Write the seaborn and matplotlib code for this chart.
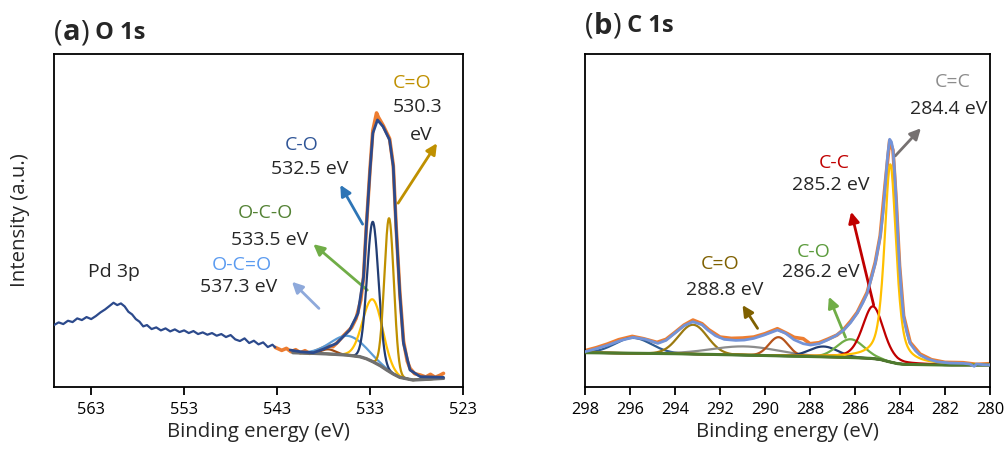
import numpy as np
import matplotlib
matplotlib.use("Agg")
import matplotlib.pyplot as plt
import seaborn as sns

# ---------------- (a) O 1s ----------------
# wide scan part on the left (Pd 3p region)
survey_ev = [567.0, 566.5, 566.0, 565.5, 565.0, 564.5, 564.0, 563.5, 563.0, 562.5,
             562.0, 561.5, 561.0, 560.6, 560.2, 559.8, 559.4, 559.0, 558.6, 558.2,
             557.8, 557.4, 557.0, 556.5, 556.0, 555.5, 555.0, 554.5, 554.0, 553.5,
             553.0, 552.5, 552.0, 551.5, 551.0, 550.5, 550.0, 549.5, 549.0, 548.5,
             548.0, 547.5, 547.0, 546.5, 546.0, 545.5, 545.0, 544.5, 544.0, 543.5, 543.2]
survey_int = [18.6, 19.4, 18.9, 19.9, 19.5, 20.6, 20.1, 21.0, 20.4, 21.3,
              22.4, 23.3, 24.4, 25.3, 24.6, 25.1, 24.2, 22.6, 21.8, 20.4,
              19.6, 18.2, 18.6, 17.4, 17.9, 17.0, 17.6, 16.7, 17.3, 16.5,
              17.0, 16.2, 16.8, 15.9, 16.4, 15.7, 16.2, 15.4, 15.9, 15.0,
              15.6, 14.3, 13.8, 14.6, 13.2, 13.9, 12.8, 13.4, 12.0, 12.7, 11.9]

o1s_raw_ev = [543.2, 542.5, 542.0, 541.5, 541.0, 540.5, 540.0, 539.5, 539.0, 538.5,
              538.0, 537.5, 537.0, 536.5, 536.0, 535.5, 535.0, 534.5, 534.0, 533.7,
              533.4, 533.0, 532.7, 532.3, 532.1, 531.6, 530.9, 530.5, 530.2, 529.8,
              529.4, 529.0, 528.7, 528.2, 527.6, 527.0, 526.5, 526.0, 525.5, 525.1]
o1s_raw_int = [11.9, 11.0, 11.6, 10.6, 11.2, 10.3, 10.9, 10.1, 10.6, 11.2,
               11.8, 12.4, 12.1, 13.4, 15.0, 16.4, 17.8, 20.6, 26.0, 33.0,
               48.0, 65.5, 77.0, 82.3, 81.0, 78.6, 74.6, 66.5, 48.5, 28.5,
               13.8, 7.8, 5.6, 4.0, 3.6, 3.0, 3.8, 2.9, 3.5, 4.1]

o1s_env_ev = [541.6, 540.5, 539.1, 538.0, 536.6, 535.2, 534.3, 533.7, 533.4, 533.0,
              532.7, 532.2, 531.6, 530.9, 530.5, 530.2, 529.8, 529.4, 528.7, 527.6, 525.1]
o1s_env_int = [11.1, 10.6, 10.3, 11.4, 13.1, 17.1, 22.1, 33.1, 48.1, 65.2,
               76.2, 80.2, 78.2, 74.2, 66.2, 48.1, 28.1, 13.1, 5.1, 3.1, 2.9]

o1s_bg_ev = [541.3, 539.0, 537.3, 535.5, 534.1, 533.4, 532.7, 531.9, 531.2, 530.5,
             529.8, 528.4, 527.0, 525.1]
o1s_bg_int = [10.3, 10.1, 9.9, 9.6, 9.1, 8.5, 7.6, 6.4, 5.1, 3.9,
              2.9, 2.1, 2.3, 2.6]

# fitted components: centre (eV), height above background, FWHM (eV)
o1s_center = [537.5, 535.4, 532.7, 532.7, 530.95]
o1s_height = [1.4, 5.8, 18.7, 42.0, 46.0]
o1s_fwhm = [1.8, 4.3, 2.5, 1.45, 1.2]
o1s_colors = ["#9E4A12", "#5B9BD5", "#FFC000", "#223D73", "#BF9000"]

# ---------------- (b) C 1s ----------------
c1s_raw_ev = [298.0, 297.5, 297.0, 296.5, 295.9, 295.4, 294.8, 294.4, 294.0, 293.6,
              293.2, 292.8, 292.5, 292.0, 291.5, 291.0, 290.5, 290.0, 289.45, 289.0,
              288.7, 288.3, 288.0, 287.6, 287.2, 286.8, 286.5, 286.2, 285.9, 285.46,
              285.1, 284.88, 284.65, 284.46, 284.31, 284.17, 284.02, 283.84, 283.55, 283.11,
              282.6, 282.0, 281.2, 280.6, 280.0]
c1s_raw_int = [10.9, 11.8, 12.9, 14.2, 15.2, 14.5, 13.4, 14.3, 16.4, 18.6,
               20.1, 19.0, 17.2, 15.0, 14.6, 14.7, 15.0, 16.0, 17.5, 16.0,
               14.9, 14.5, 13.0, 13.3, 14.4, 15.6, 17.3, 19.7, 22.4, 28.4,
               37.4, 45.4, 61.5, 74.0, 71.0, 56.0, 36.4, 21.4, 13.4, 9.9,
               8.2, 7.4, 7.3, 6.8, 7.0]

c1s_env_ev = [298.0, 297.5, 296.97, 296.4, 295.86, 295.3, 294.76, 294.4, 294.02, 293.6,
              293.21, 292.8, 292.54, 292.2, 291.81, 291.3, 290.92, 290.5, 290.04, 289.45,
              289.1, 288.71, 288.3, 287.97, 287.6, 287.23, 286.85, 286.5, 286.2, 285.91,
              285.65, 285.46, 285.25, 285.1, 284.88, 284.75, 284.65, 284.55, 284.46, 284.38,
              284.31, 284.24, 284.17, 284.1, 284.02, 283.93, 283.84, 283.7, 283.55, 283.3,
              283.11, 282.8, 282.37, 281.8, 281.19, 280.9, 280.7, 280.6, 280.3, 279.95]
c1s_env_int = [10.6, 11.5, 12.6, 14.0, 14.9, 14.3, 13.1, 14.0, 16.1, 18.4,
               19.6, 18.7, 17.1, 15.4, 14.3, 14.0, 14.1, 14.6, 15.6, 17.1,
               16.2, 14.2, 13.0, 12.6, 13.0, 14.1, 15.4, 17.1, 19.3, 22.1,
               25.3, 28.1, 33.2, 37.1, 45.1, 52.5, 61.2, 69.5, 74.4, 73.6,
               71.2, 64.5, 56.2, 46.0, 36.1, 27.5, 21.1, 16.5, 13.1, 10.8,
               9.6, 8.5, 7.6, 7.2, 7.1, 6.9, 6.2, 6.9, 6.7, 6.6]

c1s_bg_ev = [298.0, 294.0, 291.0, 289.0, 287.0, 286.0, 285.3, 284.9, 284.5, 284.1,
             283.8, 282.0, 280.0]
c1s_bg_int = [10.3, 10.0, 9.6, 9.3, 9.0, 8.8, 8.6, 8.3, 7.6, 7.0,
              6.8, 6.6, 6.6]

# centre (eV), height above background, FWHM (eV), Lorentzian fraction
c1s_center = [295.86, 293.2, 290.9, 289.4, 287.4, 286.2, 285.2, 284.43]
c1s_height = [4.6, 8.8, 2.6, 5.6, 3.1, 5.5, 15.7, 59.4]
c1s_fwhm = [1.9, 1.5, 3.5, 1.0, 1.5, 1.4, 1.1, 0.62]
c1s_lfrac = [0.0, 0.0, 0.0, 0.0, 0.0, 0.0, 0.35, 0.6]
c1s_colors = ["#2E5C94", "#9C7A10", "#8C8C8C", "#B5541C", "#223D73",
              "#70AD47", "#C00000", "#FFC000"]


def peak(x, c, h, w, eta=0.0):
    s = w / 2.3548
    g = np.exp(-(x - c) ** 2 / (2 * s * s))
    lo = 1.0 / (1.0 + ((x - c) / (w / 2)) ** 2)
    return h * ((1 - eta) * g + eta * lo)


def line(ax, x, y, color, lw, z):
    sns.lineplot(x=x, y=y, ax=ax, color=color, linewidth=lw, sort=False,
                 estimator=None, zorder=z)


def arrow(ax, tail, head, color):
    ax.annotate("", xy=head, xytext=tail,
                arrowprops=dict(arrowstyle="-|>", color=color, lw=2.0,
                                mutation_scale=16, shrinkA=0, shrinkB=0))


def main():
    sns.set_theme(style="white")
    plt.rcParams["font.family"] = ["Open Sans", "DejaVu Sans"]

    fig = plt.figure(figsize=(10.08, 4.55), dpi=100)
    ax1 = fig.add_axes([54 / 1008, 1 - 387 / 455, 409 / 1008, 333 / 455])
    ax2 = fig.add_axes([585 / 1008, 1 - 387 / 455, 405 / 1008, 333 / 455])

    # --- panel a ---
    line(ax1, survey_ev, survey_int, "#2C4A8C", 1.6, 3)
    line(ax1, o1s_raw_ev, o1s_raw_int, "#ED7D31", 2.6, 2)
    xa = np.linspace(541.3, 525.1, 500)
    bga = np.interp(xa, o1s_bg_ev[::-1], o1s_bg_int[::-1])
    for c, h, w, col in zip(o1s_center, o1s_height, o1s_fwhm, o1s_colors):
        line(ax1, xa, bga + peak(xa, c, h, w), col, 1.6, 4)
    line(ax1, o1s_bg_ev, o1s_bg_int, "#707070", 2.4, 5)
    line(ax1, o1s_env_ev, o1s_env_int, "#2C4A8C", 2.0, 6)

    ax1.set_xlim(567, 523)
    ax1.set_ylim(0, 100)
    ax1.set_xticks([563, 553, 543, 533, 523])
    ax1.set_ylabel("Intensity (a.u.)", fontsize=14.7, labelpad=17)

    fs = 14
    ax1.text(560.5, 34.5, "Pd 3p", fontsize=fs, ha="center", va="center")
    ax1.text(528.5, 91.2, "C=O", color="#BF9000", fontsize=fs, ha="center", va="center")
    ax1.text(527.9, 84.2, "530.3", fontsize=fs, ha="center", va="center")
    ax1.text(527.5, 75.7, "eV", fontsize=fs, ha="center", va="center")
    ax1.text(540.4, 72.7, "C-O", color="#2F5597", fontsize=fs, ha="center", va="center")
    ax1.text(539.5, 65.4, "532.5 eV", fontsize=fs, ha="center", va="center")
    ax1.text(544.2, 52.3, "O-C-O", color="#548235", fontsize=fs, ha="center", va="center")
    ax1.text(543.8, 44.1, "533.5 eV", fontsize=fs, ha="center", va="center")
    ax1.text(546.8, 36.6, "O-C=O", color="#5B9BF0", fontsize=fs, ha="center", va="center")
    ax1.text(547.1, 30.1, "537.3 eV", fontsize=fs, ha="center", va="center")

    arrow(ax1, (529.98, 55.2), (525.8, 73.2), "#BF9000")
    arrow(ax1, (533.8, 48.9), (536.2, 60.7), "#2E75B6")
    arrow(ax1, (533.3, 29.1), (539.1, 42.9), "#70AD47")
    arrow(ax1, (538.5, 23.6), (541.4, 31.6), "#8EA9DB")

    # --- panel b ---
    line(ax2, c1s_raw_ev, c1s_raw_int, "#ED7D31", 2.6, 2)
    xb = np.linspace(298, 280, 900)
    bgb = np.interp(xb, c1s_bg_ev[::-1], c1s_bg_int[::-1])
    for c, h, w, e, col in zip(c1s_center, c1s_height, c1s_fwhm, c1s_lfrac, c1s_colors):
        line(ax2, xb, bgb + peak(xb, c, h, w, e), col, 1.6, 4)
    line(ax2, c1s_bg_ev, c1s_bg_int, "#4E7A2E", 2.2, 5)
    line(ax2, c1s_env_ev, c1s_env_int, "#7393D8", 2.0, 6)

    ax2.set_xlim(298, 280)
    ax2.set_ylim(0, 100)
    ax2.set_xticks(list(range(298, 279, -2)))

    ax2.text(281.66, 91.7, "C=C", color="#8C8C8C", fontsize=fs, ha="center", va="center")
    ax2.text(281.85, 83.4, "284.4 eV", fontsize=fs, ha="center", va="center")
    ax2.text(286.94, 67.2, "C-C", color="#C00000", fontsize=fs, ha="center", va="center")
    ax2.text(287.09, 60.7, "285.2 eV", fontsize=fs, ha="center", va="center")
    ax2.text(287.82, 40.6, "C-O", color="#5B9B3C", fontsize=fs, ha="center", va="center")
    ax2.text(287.53, 34.6, "286.2 eV", fontsize=fs, ha="center", va="center")
    ax2.text(292.0, 36.8, "C=O", color="#7F6000", fontsize=fs, ha="center", va="center")
    ax2.text(291.8, 29.1, "288.8 eV", fontsize=fs, ha="center", va="center")

    arrow(ax2, (284.21, 69.4), (283.07, 77.7), "#767171")
    arrow(ax2, (285.17, 24.6), (286.17, 52.6), "#C00000")
    arrow(ax2, (286.42, 14.9), (287.16, 27.1), "#70AD47")
    arrow(ax2, (290.33, 17.6), (291.0, 24.6), "#7F6000")

    for ax in (ax1, ax2):
        ax.set_yticks([])
        ax.set_xlabel("Binding energy (eV)", fontsize=14.7, labelpad=3)
        ax.tick_params(axis="x", direction="out", length=6, width=1.3,
                       labelsize=11.8, pad=5, bottom=True, colors="black")
        for sp in ax.spines.values():
            sp.set_visible(True)
            sp.set_color("black")
            sp.set_linewidth(1.3)

    # panel titles: "(a) O 1s", "(b) C 1s" with mixed weights
    fig.canvas.draw()
    r = fig.canvas.get_renderer()
    for x0, yc, letter, rest in [(54, 33, "a", "O 1s"), (585, 26, "b", "C 1s")]:
        x = x0
        for s, size, weight in [("(", 21, "normal"), (letter, 21, "bold"),
                                (")", 21, "normal"), (" " + rest, 17, "bold")]:
            t = fig.text(x / 1008, 1 - yc / 455, s, fontsize=size, fontweight=weight,
                         ha="left", va="center")
            x += t.get_window_extent(r).width

    plt.savefig("out.png", dpi=100)


if __name__ == "__main__":
    main()
